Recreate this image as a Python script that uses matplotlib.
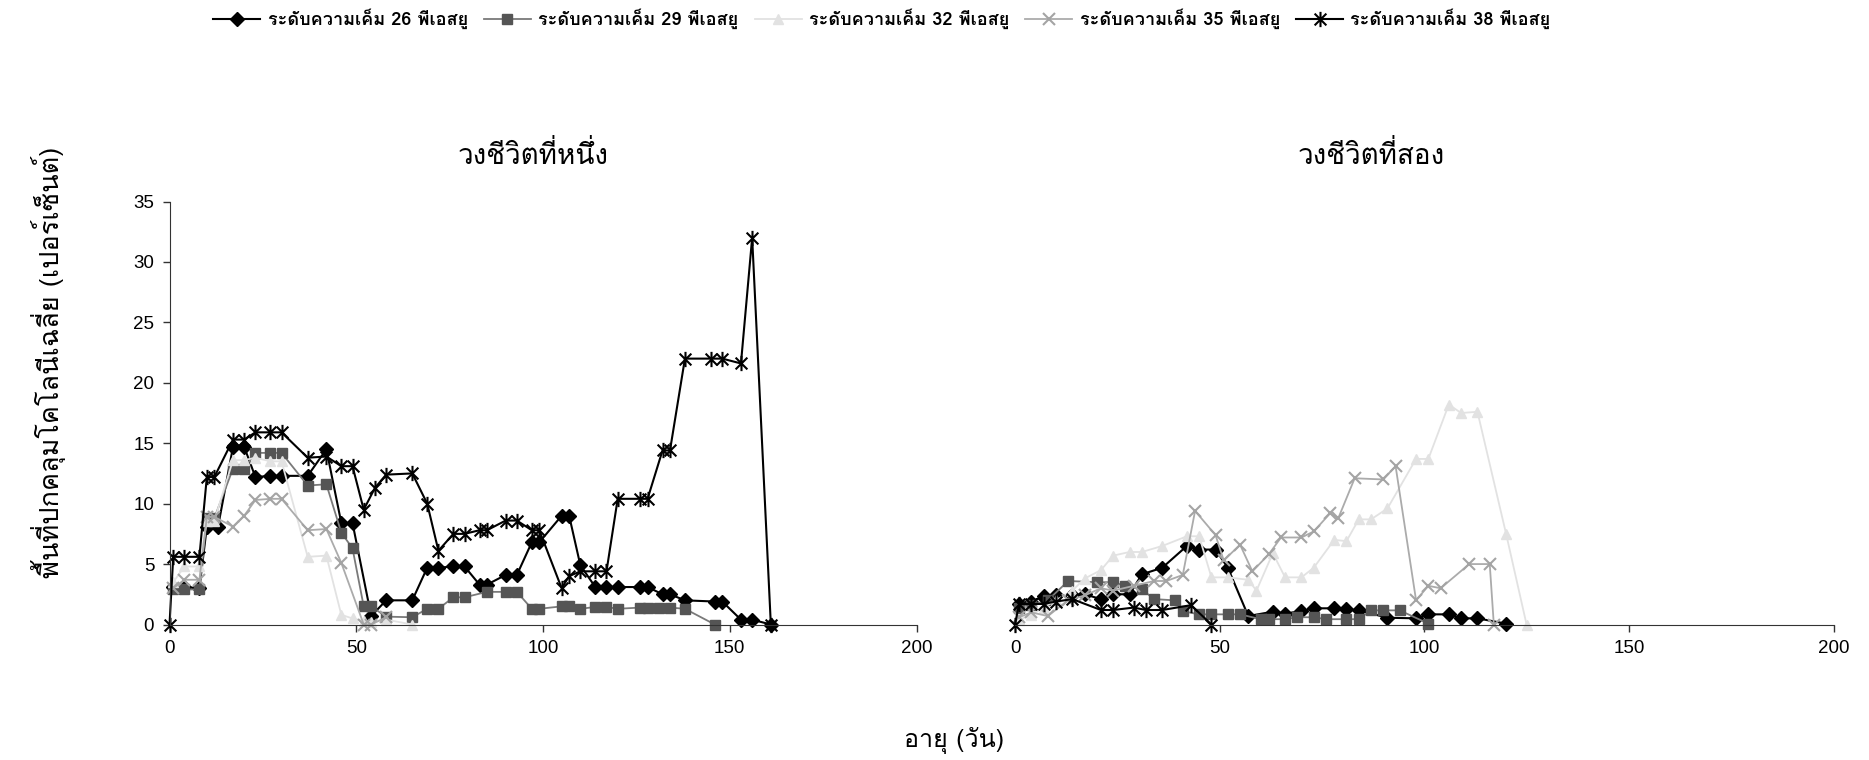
import matplotlib

matplotlib.use('Agg')
import matplotlib.pyplot as plt
from matplotlib import font_manager, ft2font
from matplotlib.path import Path


def find_thai_font():
    # ищем шрифт, в котором есть тайские глифы
    for f in font_manager.fontManager.ttflist:
        try:
            if 0x0E01 in ft2font.FT2Font(f.fname).get_charmap():
                return f.name
        except Exception:
            continue
    return 'DejaVu Sans'


THAI = find_thai_font()
plt.rcParams['font.family'] = [THAI, 'Liberation Sans', 'DejaVu Sans']

# Подписи
series_names = ['ระดับความเค็ม 26 พีเอสยู', 'ระดับความเค็ม 29 พีเอสยู',
                'ระดับความเค็ม 32 พีเอสยู', 'ระดับความเค็ม 35 พีเอสยู',
                'ระดับความเค็ม 38 พีเอสยู']
panel_titles = ['วงชีวิตที่หนึ่ง', 'วงชีวิตที่สอง']
x_label = 'อายุ (วัน)'
y_label = 'พื้นที่ปกคลุมโคโลนีเฉลี่ย (เปอร์เซ็นต์)'

# Цикл 1 (левая панель)
s26_x1 = [1, 4, 8, 10, 13, 17, 20, 23, 27, 30, 37, 42, 46, 49, 54, 58, 65, 69, 72, 76, 79, 83, 85,
          90, 93, 97, 99, 105, 107, 110, 114, 117, 120, 126, 128, 132, 134, 138, 146, 148, 153, 156, 161]
s26_y1 = [3.1, 3.1, 3.0, 8.1, 8.1, 14.7, 14.7, 12.2, 12.3, 12.3, 12.3, 14.5, 8.4, 8.4, 0.7, 2.0, 2.0,
          4.7, 4.7, 4.8, 4.8, 3.3, 3.3, 4.1, 4.1, 6.8, 6.8, 9.0, 9.0, 4.9, 3.1, 3.1, 3.1, 3.1, 3.1,
          2.5, 2.5, 2.0, 1.9, 1.9, 0.4, 0.4, 0.0]
s29_x1 = [1, 4, 8, 10, 12, 17, 20, 23, 27, 30, 37, 42, 46, 49, 52, 54, 58, 65, 69, 72, 76, 79, 85,
          90, 93, 97, 99, 105, 107, 110, 114, 117, 120, 126, 128, 131, 134, 138, 146]
s29_y1 = [2.9, 2.9, 2.9, 8.8, 8.8, 12.9, 12.9, 14.2, 14.2, 14.2, 11.5, 11.6, 7.6, 6.3, 1.5, 1.5,
          0.65, 0.6, 1.3, 1.3, 2.25, 2.25, 2.7, 2.7, 2.7, 1.3, 1.3, 1.5, 1.5, 1.3, 1.45, 1.45, 1.3,
          1.4, 1.4, 1.4, 1.4, 1.3, 0.0]
s32_x1 = [1, 4, 8, 10, 12, 17, 20, 23, 27, 30, 37, 42, 46, 49, 52, 54, 58, 65]
s32_y1 = [3.5, 4.8, 4.8, 8.6, 8.6, 13.6, 13.6, 13.8, 13.5, 13.5, 5.6, 5.7, 0.8, 0.5, 0.3, 0.2, 0.4, 0.0]
s35_x1 = [1, 4, 8, 10, 12, 17, 20, 23, 27, 30, 37, 42, 46, 52, 54, 58]
s35_y1 = [3.0, 3.7, 3.7, 8.9, 8.9, 8.1, 9.0, 10.3, 10.4, 10.4, 7.8, 7.9, 5.1, 0.0, 0.0, 0.6]
s38_x1 = [0, 1, 4, 8, 10, 12, 17, 20, 23, 27, 30, 37, 42, 46, 49, 52, 55, 58, 65, 69, 72, 76, 79,
          83, 85, 90, 93, 97, 99, 105, 107, 110, 114, 117, 120, 126, 128, 132, 134, 138, 145, 148,
          153, 156, 161]
s38_y1 = [0.0, 5.6, 5.6, 5.6, 12.2, 12.2, 15.3, 15.3, 15.9, 15.9, 15.9, 13.8, 13.9, 13.1, 13.1, 9.5,
          11.3, 12.4, 12.5, 10.0, 6.1, 7.5, 7.5, 7.8, 7.8, 8.6, 8.6, 7.8, 7.8, 3.0, 4.0, 4.4, 4.4,
          4.4, 10.4, 10.4, 10.4, 14.4, 14.4, 22.0, 22.0, 22.0, 21.6, 32.0, 0.0]

# Цикл 2 (правая панель)
s26_x2 = [1, 4, 7, 10, 14, 17, 21, 24, 28, 31, 36, 42, 45, 49, 52, 57, 63, 66, 70, 73, 78, 81, 84,
          91, 98, 101, 106, 109, 113, 120]
s26_y2 = [1.7, 1.9, 2.35, 2.4, 2.4, 2.5, 2.1, 2.5, 2.5, 4.15, 4.7, 6.5, 6.2, 6.2, 4.7, 0.7, 1.06,
          0.9, 1.12, 1.34, 1.34, 1.25, 1.17, 0.56, 0.51, 0.84, 0.84, 0.51, 0.51, 0.07]
s29_x2 = [1, 4, 8, 13, 20, 24, 27, 31, 34, 39, 41, 45, 48, 52, 55, 60, 62, 66, 69, 73, 76, 81, 84,
          87, 90, 94, 101]
s29_y2 = [1.4, 1.6, 2.0, 3.6, 3.5, 3.5, 3.2, 2.9, 2.1, 2.0, 1.1, 0.84, 0.84, 0.84, 0.84, 0.44, 0.44,
          0.44, 0.6, 0.6, 0.44, 0.44, 0.44, 1.17, 1.17, 1.17, 0.07]
s32_x2 = [1, 4, 7, 10, 14, 17, 21, 24, 28, 31, 36, 42, 45, 48, 52, 57, 59, 63, 66, 70, 73, 78, 81,
          84, 87, 91, 98, 101, 106, 109, 113, 120, 125]
s32_y2 = [0.4, 0.8, 1.4, 2.0, 2.8, 3.8, 4.5, 5.7, 6.0, 6.0, 6.5, 7.3, 7.3, 3.9, 3.9, 3.7, 2.8, 5.9,
          3.9, 3.9, 4.7, 7.0, 6.9, 8.7, 8.7, 9.6, 13.7, 13.7, 18.2, 17.5, 17.6, 7.5, 0.0]
s35_x2 = [1, 4, 8, 13, 17, 21, 24, 29, 34, 37, 41, 44, 49, 51, 55, 58, 62, 65, 70, 73, 77, 79, 83,
          90, 93, 98, 101, 104, 111, 116, 117]
s35_y2 = [0.6, 1.0, 0.7, 2.0, 2.4, 3.0, 2.8, 3.2, 3.6, 3.6, 4.1, 9.4, 7.4, 5.3, 6.6, 4.4, 5.8, 7.2,
          7.2, 7.7, 9.2, 8.8, 12.1, 12.0, 13.1, 2.0, 3.2, 3.0, 5.0, 5.0, 0.0]
s38_x2 = [0, 1, 4, 7, 10, 14, 21, 24, 29, 32, 36, 43, 48]
s38_y2 = [0.0, 1.7, 1.7, 1.7, 1.9, 2.1, 1.2, 1.2, 1.4, 1.2, 1.2, 1.6, 0.0]

# Маркер-звёздочка как в Excel (x + вертикальная черта)
star = Path([(-1, -1), (1, 1), (-1, 1), (1, -1), (0, -1.3), (0, 1.3)],
            [Path.MOVETO, Path.LINETO, Path.MOVETO, Path.LINETO, Path.MOVETO, Path.LINETO])

styles = [
    dict(color='black', marker='D', ms=7, mfc='black', mec='black', lw=1.5),
    dict(color='#7a7a7a', marker='s', ms=7, mfc='#555555', mec='#555555', lw=1.3),
    dict(color='#e2e2e2', marker='^', ms=7, mfc='#e2e2e2', mec='#e2e2e2', lw=1.3),
    dict(color='#ababab', marker='x', ms=8, mfc='none', mec='#a4a4a4', lw=1.3, mew=1.5),
    dict(color='black', marker=star, ms=11, mfc='none', mec='black', lw=1.5, mew=1.5),
]

data1 = [(s26_x1, s26_y1), (s29_x1, s29_y1), (s32_x1, s32_y1), (s35_x1, s35_y1), (s38_x1, s38_y1)]
data2 = [(s26_x2, s26_y2), (s29_x2, s29_y2), (s32_x2, s32_y2), (s35_x2, s35_y2), (s38_x2, s38_y2)]

W, H = 1869, 760
fig = plt.figure(figsize=(W / 100, H / 100), dpi=100)
fig.patch.set_facecolor('white')

# Оси в пикселях: левая 169-917, правая 1015-1834, y=0 на 624, y=35 на 202
ax1 = fig.add_axes([169.5 / W, (H - 624.5) / H, 747 / W, 423 / H])
ax2 = fig.add_axes([1015 / W, (H - 624.5) / H, 818.5 / W, 423 / H])

for ax, data in ((ax1, data1), (ax2, data2)):
    for (xs, ys), st, name in zip(data, styles, series_names):
        ax.plot(xs, ys, label=name, clip_on=False, **st)
    ax.set_xlim(0, 200)
    ax.set_ylim(0, 35)
    ax.set_xticks([0, 50, 100, 150, 200])
    ax.spines['top'].set_visible(False)
    ax.spines['right'].set_visible(False)
    ax.spines['bottom'].set_color('#333333')
    ax.tick_params(axis='both', direction='out', length=5, width=1, colors='#333333', pad=6)
    for lab in ax.get_xticklabels() + ax.get_yticklabels():
        lab.set_fontfamily('Liberation Sans')
        lab.set_fontsize(13.5)
        lab.set_color('black')
    ax.set_facecolor('none')

ax1.set_yticks(range(0, 36, 5))
ax1.spines['left'].set_color('#333333')
ax2.spines['left'].set_visible(False)
ax2.set_yticks([])

# Заголовки панелей и подписи осей
fig.text(533 / W, 1 - 155 / H, panel_titles[0], ha='center', va='center', fontsize=20)
fig.text(1371 / W, 1 - 155 / H, panel_titles[1], ha='center', va='center', fontsize=20)
fig.text(954 / W, 1 - 741 / H, x_label, ha='center', va='center', fontsize=18)
fig.text(48 / W, 1 - 362 / H, y_label, ha='center', va='center', rotation=90, fontsize=19.5)

handles, labels = ax1.get_legend_handles_labels()
fig.legend(handles, labels, loc='center', bbox_to_anchor=(882 / W, 1 - 19 / H), ncol=5,
           frameon=False, prop=dict(size=13, weight='bold'), handlelength=2.6,
           handletextpad=0.4, columnspacing=0.9)

fig.savefig('out.png', dpi=100, facecolor='white')
plt.close('all')
